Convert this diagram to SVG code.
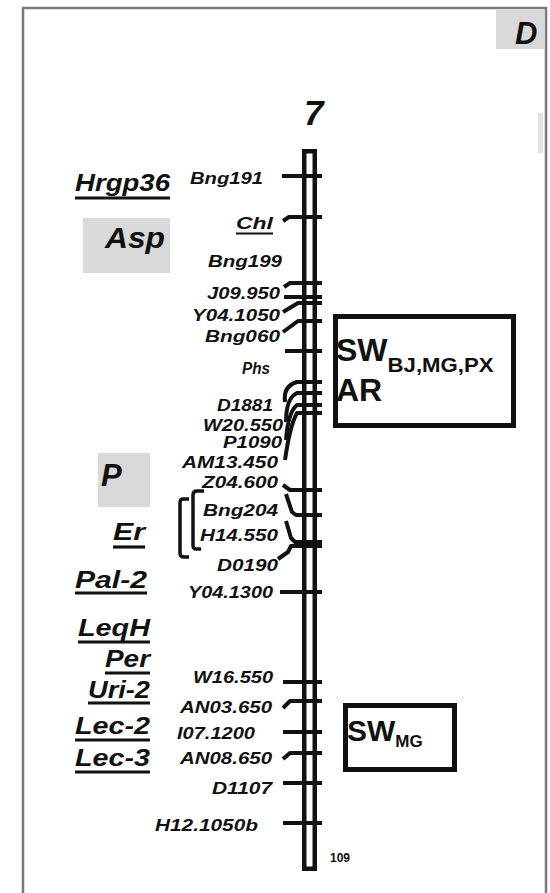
<svg xmlns="http://www.w3.org/2000/svg" width="550" height="893" viewBox="0 0 550 893">
<style>
.m{font-family:"Liberation Sans",Arial,sans-serif;font-weight:bold;font-style:italic;font-size:16px;fill:#111}
.t{font-family:"Liberation Sans",Arial,sans-serif;font-weight:bold;font-style:italic;font-size:24px;fill:#111}
.b{font-family:"Liberation Sans",Arial,sans-serif;font-weight:bold;fill:#111}
.ul{stroke:#111;stroke-width:3.2;fill:none}
.tk{stroke:#111;stroke-width:4;fill:none;stroke-linejoin:round}
.gb{fill:#d9d9d9}
.bx{fill:none;stroke:#111;stroke-width:5}
</style>
<rect x="0" y="0" width="550" height="893" fill="#fff"/>
<g id="frame">
<rect x="23" y="8" width="523" height="900" fill="none" stroke="#7a7a7a" stroke-width="2.5"/>
<rect x="538" y="113" width="5" height="40" fill="#e2e2e2"/>
</g>
<g id="panel-D">
<rect class="gb" x="496" y="10" width="49" height="39"/>
<text class="b" x="515" y="44" style="font-size:31px;font-style:italic">D</text>
</g>
<g id="chromosome-title"><text class="b" x="304" y="125" style="font-size:35px;font-style:italic">7</text></g>
<g id="chromosome">
<rect x="304.25" y="151.25" width="10.5" height="717.5" fill="#fff" stroke="#111" stroke-width="4.5"/>
<text class="b" x="330" y="862" style="font-size:12px">109</text>
</g>
<g id="connectors">
<path class="tk" d="M282,176 H322"/>
<path class="tk" d="M283,221 L289,217 H322"/>
<path class="tk" d="M284,287 L290,283 H322"/>
<path class="tk" d="M284,297 H322"/>
<path class="tk" d="M283,312 L298,303 H322"/>
<path class="tk" d="M283,332 L298,321 H322"/>
<path class="tk" d="M285,351 H322"/>
<path class="tk" d="M285,402 Q283,386 297,382 H322"/>
<path class="tk" d="M286,422 Q286,398 297,393 H322"/>
<path class="tk" d="M286,440 Q288,412 297,405 H322"/>
<path class="tk" d="M285,460 Q290,425 297,413 H322"/>
<path class="tk" d="M283,485 L290,490 H322"/>
<path class="tk" d="M286,494 L292,512 L296,515 H322"/>
<path class="tk" d="M286,521 L291,538 L295,542 H322"/>
<path class="tk" d="M278,559 L288,552 L291,546 H322"/>
<path class="tk" d="M280,592 H322"/>
<path class="tk" d="M283,682 H322"/>
<path class="tk" d="M283,708 L290,701 H322"/>
<path class="tk" d="M283,732 H322"/>
<path class="tk" d="M283,759 L290,753 H322"/>
<path class="tk" d="M283,783 H322"/>
<path class="tk" d="M283,823 H322"/>
</g>
<g id="marker-labels">
<text class="m" x="190" y="184" textLength="73" lengthAdjust="spacingAndGlyphs">Bng191</text>
<text class="m" x="208" y="267" textLength="74" lengthAdjust="spacingAndGlyphs">Bng199</text>
<text class="m" x="207" y="299" textLength="73" lengthAdjust="spacingAndGlyphs">J09.950</text>
<text class="m" x="192" y="321" textLength="88" lengthAdjust="spacingAndGlyphs">Y04.1050</text>
<text class="m" x="205" y="342" textLength="75" lengthAdjust="spacingAndGlyphs">Bng060</text>
<text class="m" x="242" y="374" textLength="28" lengthAdjust="spacingAndGlyphs">Phs</text>
<text class="m" x="217" y="411" textLength="56" lengthAdjust="spacingAndGlyphs">D1881</text>
<text class="m" x="203" y="431" textLength="80" lengthAdjust="spacingAndGlyphs">W20.550</text>
<text class="m" x="223" y="448" textLength="59" lengthAdjust="spacingAndGlyphs">P1090</text>
<text class="m" x="182" y="468" textLength="96" lengthAdjust="spacingAndGlyphs">AM13.450</text>
<text class="m" x="202" y="488" textLength="76" lengthAdjust="spacingAndGlyphs">Z04.600</text>
<text class="m" x="203" y="516" textLength="75" lengthAdjust="spacingAndGlyphs">Bng204</text>
<text class="m" x="200" y="541" textLength="78" lengthAdjust="spacingAndGlyphs">H14.550</text>
<text class="m" x="217" y="571" textLength="61" lengthAdjust="spacingAndGlyphs">D0190</text>
<text class="m" x="188" y="598" textLength="85" lengthAdjust="spacingAndGlyphs">Y04.1300</text>
<text class="m" x="193" y="683" textLength="80" lengthAdjust="spacingAndGlyphs">W16.550</text>
<text class="m" x="180" y="713" textLength="92" lengthAdjust="spacingAndGlyphs">AN03.650</text>
<text class="m" x="177" y="739" textLength="78" lengthAdjust="spacingAndGlyphs">I07.1200</text>
<text class="m" x="180" y="764" textLength="92" lengthAdjust="spacingAndGlyphs">AN08.650</text>
<text class="m" x="212" y="794" textLength="60" lengthAdjust="spacingAndGlyphs">D1107</text>
<text class="m" x="155" y="831" textLength="103" lengthAdjust="spacingAndGlyphs">H12.1050b</text>
</g>
<g id="gene-Chl">
<text class="m" x="236" y="229" textLength="37" lengthAdjust="spacingAndGlyphs">Chl</text>
<line x1="236" y1="233.5" x2="273" y2="233.5" stroke="#111" stroke-width="2"/>
</g>
<g id="trait-Hrgp36">
<text class="t" x="75" y="191" textLength="95" lengthAdjust="spacingAndGlyphs">Hrgp36</text>
<line class="ul" x1="75" y1="198" x2="170" y2="198"/>
</g>
<g id="trait-Asp">
<rect class="gb" x="83" y="218" width="87" height="55"/>
<text class="t" x="105" y="248" style="font-size:29px" textLength="60" lengthAdjust="spacingAndGlyphs">Asp</text>
</g>
<g id="trait-P">
<rect class="gb" x="98" y="453" width="52" height="54"/>
<text class="t" x="101" y="486" style="font-size:31px">P</text>
</g>
<g id="trait-Er">
<text class="t" x="113" y="540" textLength="32" lengthAdjust="spacingAndGlyphs">Er</text>
<line class="ul" x1="113" y1="547" x2="145" y2="547"/>
</g>
<g id="brackets">
<path d="M189,499 H183 Q180,499 180,503 V553 Q180,557 184,557 H189" fill="none" stroke="#111" stroke-width="3.5"/>
<path d="M204,491 H197 Q193,491 193,495 V545 Q193,549 196,549 H201" fill="none" stroke="#111" stroke-width="3.5"/>
</g>
<g id="trait-Pal-2">
<text class="t" x="75" y="588" textLength="72" lengthAdjust="spacingAndGlyphs">Pal-2</text>
<line class="ul" x1="75" y1="593" x2="147" y2="593"/>
</g>
<g id="trait-LeqH">
<text class="t" x="78" y="636" textLength="72" lengthAdjust="spacingAndGlyphs">LeqH</text>
<line class="ul" x1="78" y1="642" x2="150" y2="642"/>
</g>
<g id="trait-Per">
<text class="t" x="105" y="667" textLength="45" lengthAdjust="spacingAndGlyphs">Per</text>
<line class="ul" x1="105" y1="673" x2="150" y2="673"/>
</g>
<g id="trait-Uri-2">
<text class="t" x="88" y="698" textLength="62" lengthAdjust="spacingAndGlyphs">Uri-2</text>
<line class="ul" x1="88" y1="703" x2="150" y2="703"/>
</g>
<g id="trait-Lec-2">
<text class="t" x="75" y="734" textLength="75" lengthAdjust="spacingAndGlyphs">Lec-2</text>
<line class="ul" x1="75" y1="740" x2="150" y2="740"/>
</g>
<g id="trait-Lec-3">
<text class="t" x="75" y="766" textLength="75" lengthAdjust="spacingAndGlyphs">Lec-3</text>
<line class="ul" x1="75" y1="772" x2="150" y2="772"/>
</g>
<g id="qtl-SW-AR">
<rect class="bx" x="335.5" y="316.5" width="178" height="109"/>
<text class="b" x="336" y="361" style="font-size:32px">SW<tspan style="font-size:20px" dy="11" textLength="106" lengthAdjust="spacingAndGlyphs">BJ,MG,PX</tspan></text>
<text class="b" x="336" y="401" style="font-size:32px">AR</text>
</g>
<g id="qtl-SW-MG">
<rect class="bx" x="345.5" y="705.5" width="109" height="64"/>
<text class="b" x="347" y="741" style="font-size:30px">SW<tspan style="font-size:17px" dy="6">MG</tspan></text>
</g>
</svg>
